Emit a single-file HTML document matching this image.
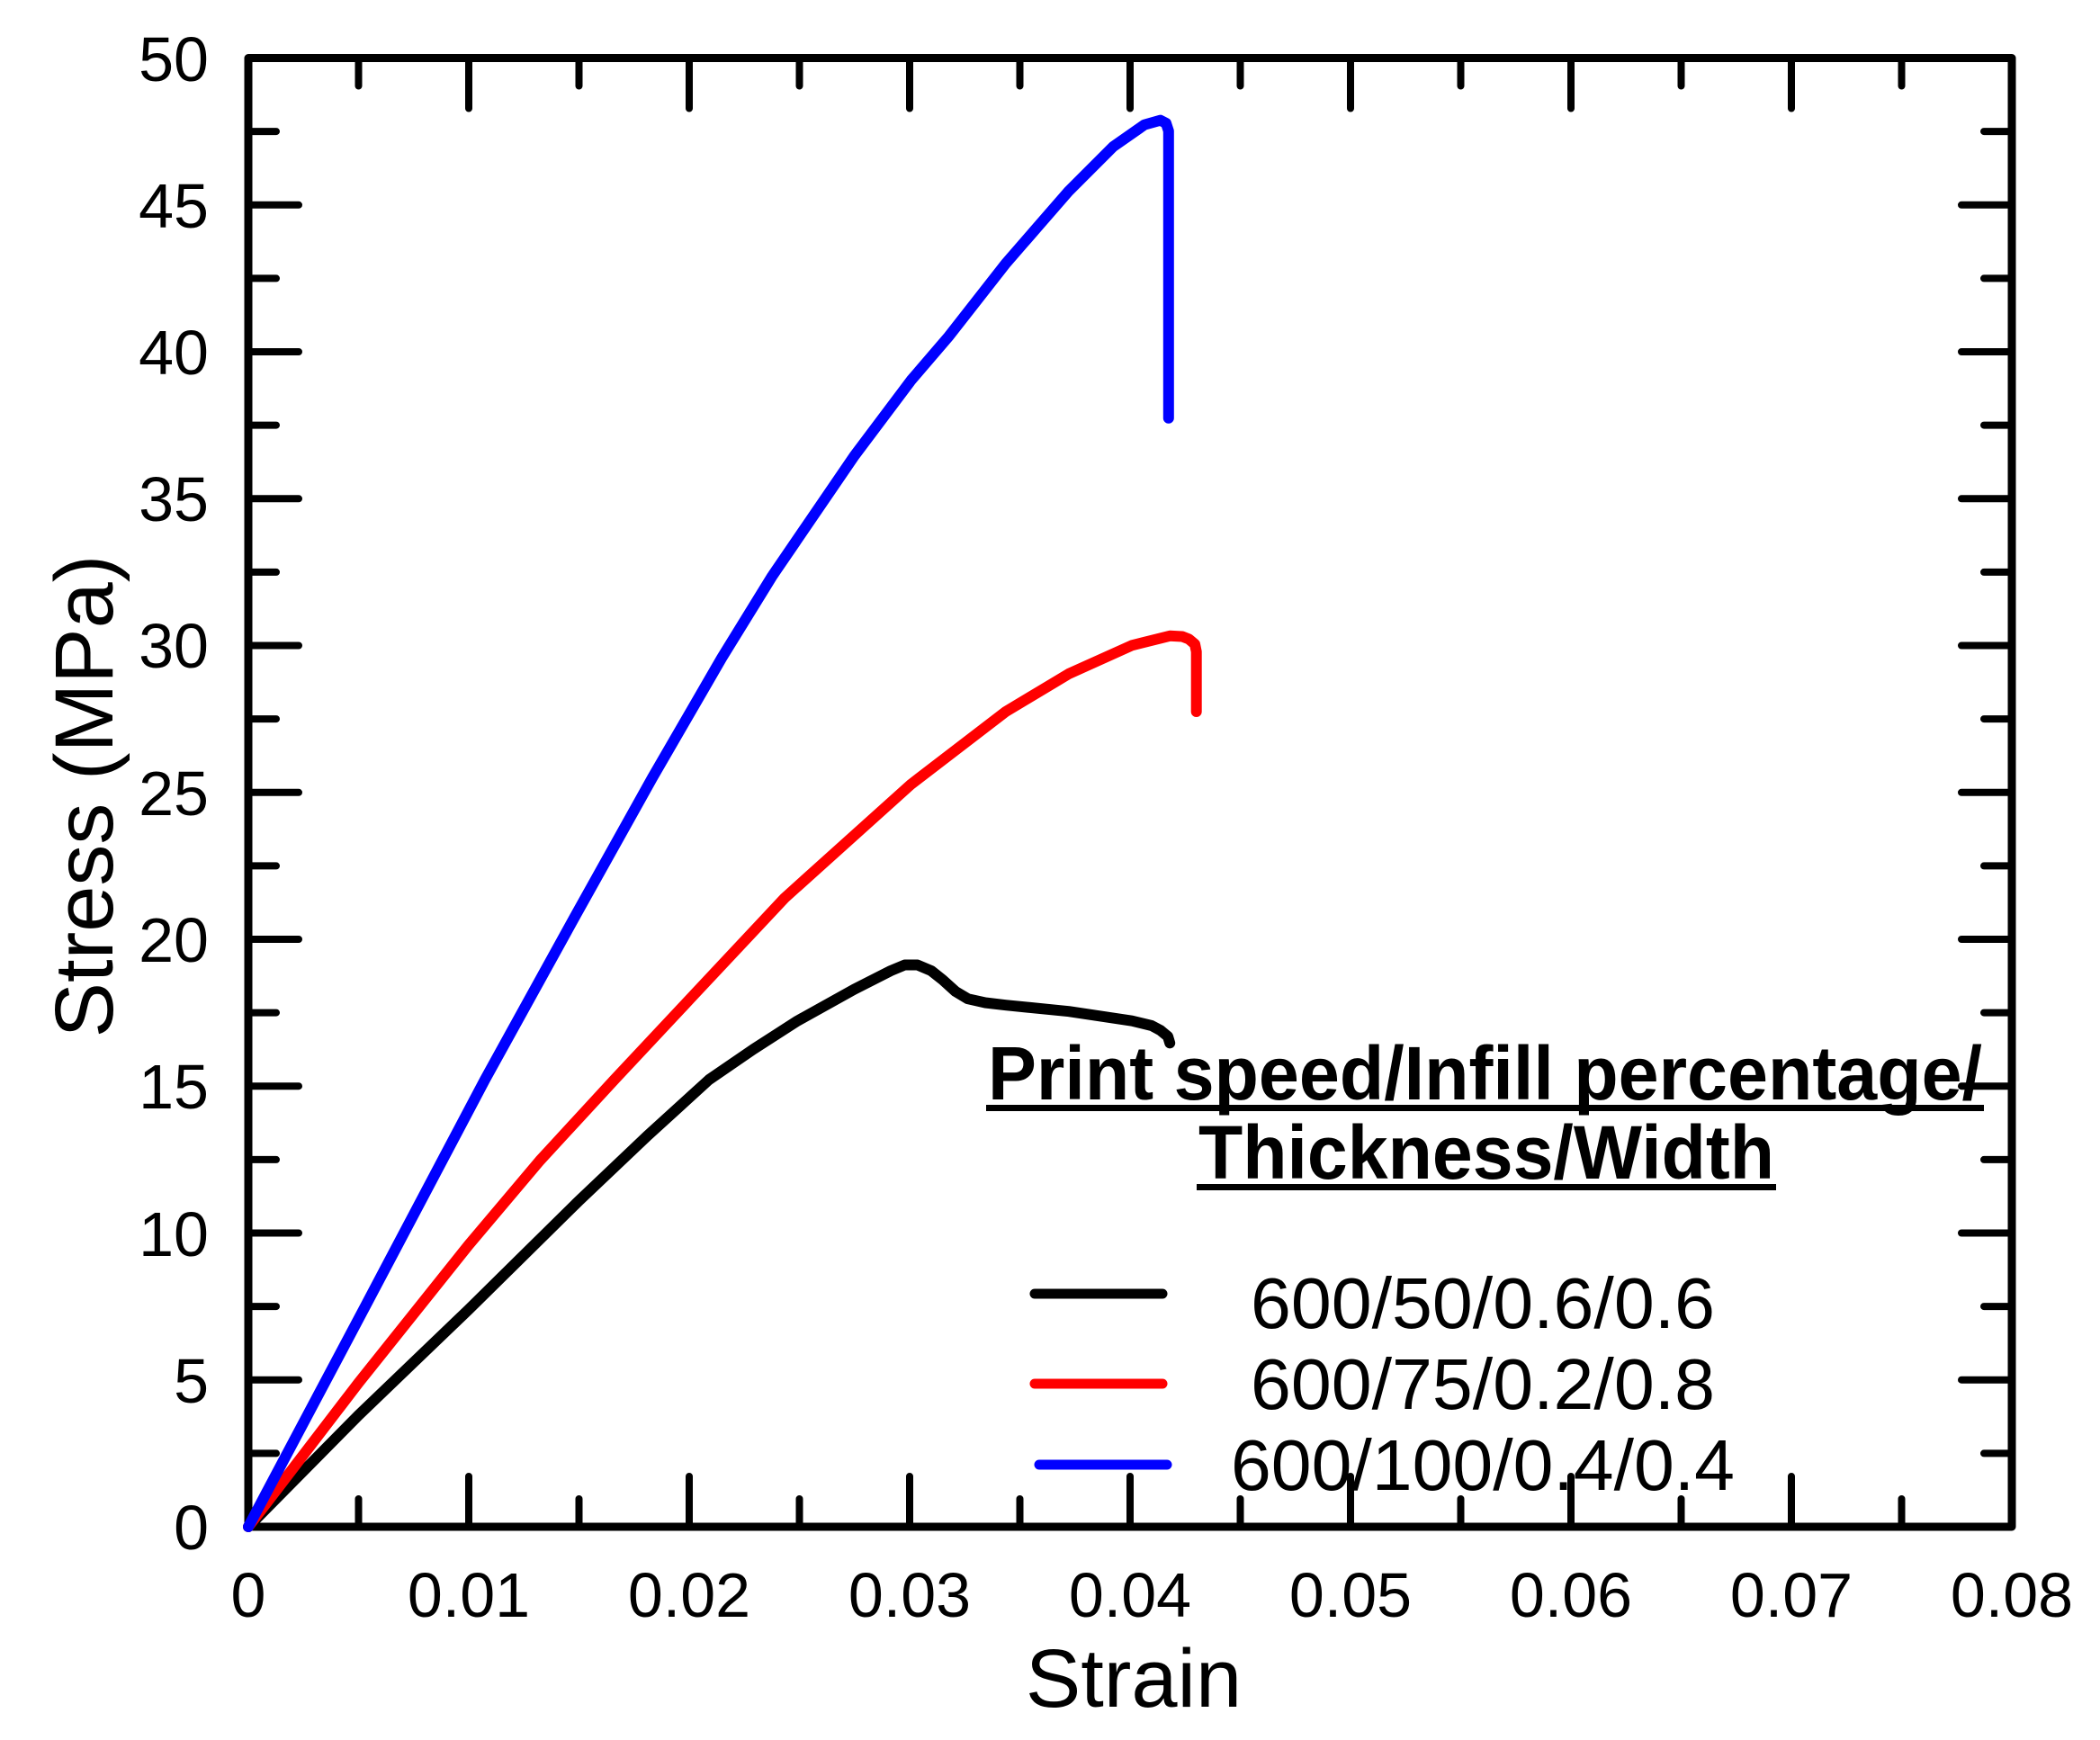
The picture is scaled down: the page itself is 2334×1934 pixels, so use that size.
<!DOCTYPE html>
<html><head><meta charset="utf-8"><style>html,body{margin:0;padding:0;background:#fff}svg{display:block}</style></head>
<body>
<svg width="2334" height="1934" viewBox="0 0 2334 1934" xmlns="http://www.w3.org/2000/svg" font-family="Liberation Sans, Arial, sans-serif">
<rect width="2334" height="1934" fill="#fff"/>
<g stroke="#000" stroke-width="8" stroke-linecap="round">
<path d="M398.5 1697v-31M521 1697v-56M643.5 1697v-31M766 1697v-56M888.5 1697v-31M1011 1697v-56M1133.5 1697v-31M1256 1697v-56M1378.5 1697v-31M1501 1697v-56M1623.5 1697v-31M1746 1697v-56M1868.5 1697v-31M1991 1697v-56M2113.5 1697v-31"/>
<path d="M398.5 64.5v31M521 64.5v56M643.5 64.5v31M766 64.5v56M888.5 64.5v31M1011 64.5v56M1133.5 64.5v31M1256 64.5v56M1378.5 64.5v31M1501 64.5v56M1623.5 64.5v31M1746 64.5v56M1868.5 64.5v31M1991 64.5v56M2113.5 64.5v31"/>
<path d="M276 1615.4h31M276 1533.7h56M276 1452.1h31M276 1370.5h56M276 1288.9h31M276 1207.2h56M276 1125.6h31M276 1044h56M276 962.4h31M276 880.8h56M276 799.1h31M276 717.5h56M276 635.9h31M276 554.3h56M276 472.6h31M276 391h56M276 309.4h31M276 227.8h56M276 146.1h31"/>
<path d="M2236 1615.4h-31M2236 1533.7h-56M2236 1452.1h-31M2236 1370.5h-56M2236 1288.9h-31M2236 1207.2h-56M2236 1125.6h-31M2236 1044h-56M2236 962.4h-31M2236 880.8h-56M2236 799.1h-31M2236 717.5h-56M2236 635.9h-31M2236 554.3h-56M2236 472.6h-31M2236 391h-56M2236 309.4h-31M2236 227.8h-56M2236 146.1h-31"/>
</g>
<rect x="276" y="64.5" width="1960" height="1632.5" fill="none" stroke="#000" stroke-width="9" stroke-linejoin="round"/>
<g font-size="70" fill="#000" text-anchor="end">
<text x="232" y="1722">0</text><text x="232" y="1559">5</text><text x="232" y="1396">10</text><text x="232" y="1232">15</text><text x="232" y="1069">20</text><text x="232" y="906">25</text><text x="232" y="742">30</text><text x="232" y="579">35</text><text x="232" y="416">40</text><text x="232" y="253">45</text><text x="232" y="90">50</text>
</g>
<g font-size="70" fill="#000" text-anchor="middle">
<text x="276" y="1797">0</text><text x="521" y="1797">0.01</text><text x="766" y="1797">0.02</text><text x="1011" y="1797">0.03</text><text x="1256" y="1797">0.04</text><text x="1501" y="1797">0.05</text><text x="1746" y="1797">0.06</text><text x="1991" y="1797">0.07</text><text x="2236" y="1797">0.08</text>
</g>
<text x="1260" y="1897" font-size="92" text-anchor="middle">Strain</text>
<text transform="translate(125 885) rotate(-90)" font-size="92" text-anchor="middle">Stress (MPa)</text>
<g fill="none" stroke-width="12" stroke-linecap="round" stroke-linejoin="round">
<polyline stroke="#000" points="276,1697 398.5,1573 521,1455.4 643.5,1334.6 720,1262 788.1,1200 837.2,1166.3 886.3,1134.7 949.4,1099.6 990,1079 1005.6,1072.5 1019.6,1072.5 1035,1079 1047.7,1089.1 1062,1102 1075.7,1110.2 1095,1114.5 1117.8,1117.2 1188,1124.2 1258.1,1134.7 1280,1140 1289.7,1145.2 1298,1152 1300.2,1159.3"/>
<polyline stroke="#ff0000" points="276,1697 398.5,1537 521,1383.6 600,1290 682.9,1200 767,1110.2 872.3,997.9 1012.6,871.7 1117.8,791 1188,748.9 1258.1,717.3 1300.2,706.8 1314,707.5 1321.3,710.3 1328,716 1329.7,724.3 1329.7,791"/>
<polyline stroke="#0000ff" points="276,1697 407,1450 539,1200 640.8,1015.5 725,864.6 802.1,731.4 858.3,640.2 949.4,506.9 1012.6,422.7 1054.7,373.6 1117.8,292.9 1188,212.2 1237.1,163.1 1272.1,138.6 1289.7,133.7 1296,137 1298.8,145.6 1298.8,464.8"/>
</g>
<g font-weight="bold" fill="#000">
<text x="1098" y="1222" font-size="84" textLength="1105" lengthAdjust="spacingAndGlyphs">Print speed/Infill percentage/</text>
<text x="1332" y="1310" font-size="84" textLength="640" lengthAdjust="spacingAndGlyphs">Thickness/Width</text>
</g>
<rect x="1096" y="1228" width="1109" height="7" fill="#000"/>
<rect x="1330" y="1316" width="644" height="7" fill="#000"/>
<g stroke-width="11" stroke-linecap="round">
<line x1="1150" y1="1438" x2="1292" y2="1438" stroke="#000"/>
<line x1="1150" y1="1538" x2="1292" y2="1538" stroke="#ff0000"/>
<line x1="1155" y1="1628" x2="1297" y2="1628" stroke="#0000ff"/>
</g>
<g font-size="80" fill="#000">
<text x="1390" y="1476" textLength="516" lengthAdjust="spacingAndGlyphs">600/50/0.6/0.6</text>
<text x="1390" y="1566" textLength="516" lengthAdjust="spacingAndGlyphs">600/75/0.2/0.8</text>
<text x="1368" y="1656" textLength="560" lengthAdjust="spacingAndGlyphs">600/100/0.4/0.4</text>
</g>
</svg>
</body></html>
